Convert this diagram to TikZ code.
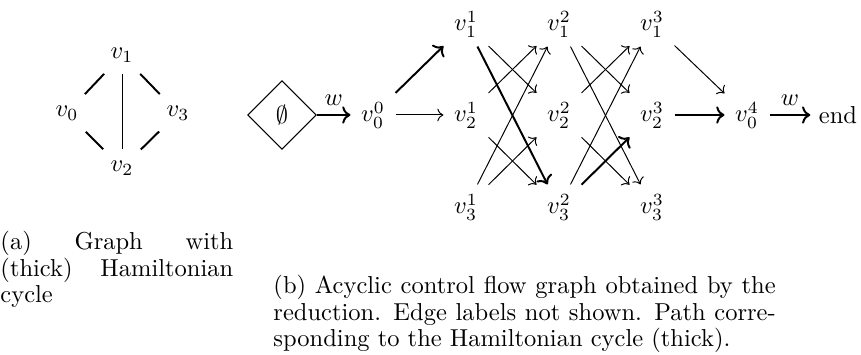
\documentclass[tikz,border=0pt]{standalone}
\usepackage{amsmath,amssymb}
\usepackage{tikz}
\usetikzlibrary{arrows.meta,positioning,shapes.geometric}

\begin{document}
\begin{tikzpicture}[x=0.40816pt, y=-0.40816pt,
  gnode/.style={minimum size=15pt, inner sep=0pt},
  vnode/.style={minimum size=18pt, inner sep=0pt},
  startnode/.style={diamond, draw, minimum size=28pt, inner sep=0pt},
  flow/.style={->},
  hamflow/.style={->, thick},
  captext/.style={anchor=base west, inner sep=0pt, align=justify, font=\fontsize{10}{10.7}\selectfont}]
  \useasboundingbox (0,0) rectangle (861,355);
  % (a) graph
  \node[gnode] (g1) at (122,55) {$v_1$};
  \node[gnode] (g0) at (67,113) {$v_0$};
  \node[gnode] (g3) at (178,113) {$v_3$};
  \node[gnode] (g2) at (122,168) {$v_2$};
  \draw[thick] (g0) -- (g1);
  \draw[thick] (g1) -- (g3);
  \draw[thick] (g3) -- (g2);
  \draw[thick] (g2) -- (g0);
  \draw (g1) -- (g2);
  % (b) control flow graph
  \node[startnode] (empty) at (282,115) {$\emptyset$};
  \node[vnode] (v00) at (373,115) {$v_0^0$};
  \foreach \k/\x in {1/466,2/559,3/652}
    \foreach \i/\y in {1/24,2/115,3/207}
      \node[vnode] (v\i\k) at (\x,\y) {$v_{\i}^{\k}$};
  \node[vnode] (v04) at (747,115) {$v_0^4$};
  \node (end) at (838,115) {end};
  % edges
  \draw[hamflow] (empty) -- node[above] {$w$} (v00);
  \draw[hamflow] (v00) -- (v11);
  \draw[flow] (v00) -- (v21);
  \foreach \a/\b in {11/22, 21/12, 21/32, 31/12, 31/22, 12/23, 12/33, 22/13, 22/33, 32/13}
    \draw[flow] (v\a) -- (v\b);
  \draw[hamflow] (v11) -- (v32);
  \draw[hamflow] (v32) -- (v23);
  \draw[flow] (v13) -- (v04);
  \draw[hamflow] (v23) -- (v04);
  \draw[hamflow] (v04) -- node[above] {$w$} (end);
  % captions
  \node[captext, text width=95pt] (capa) at (0,250) {(a) Graph with (thick) Hamiltonian cycle};
  \node[captext, text width=205pt] (capb) at (273,294) {(b) Acyclic control flow graph obtained by the reduction. Edge labels not shown. Path corresponding to the Hamiltonian cycle (thick).};
\end{tikzpicture}
\end{document}
